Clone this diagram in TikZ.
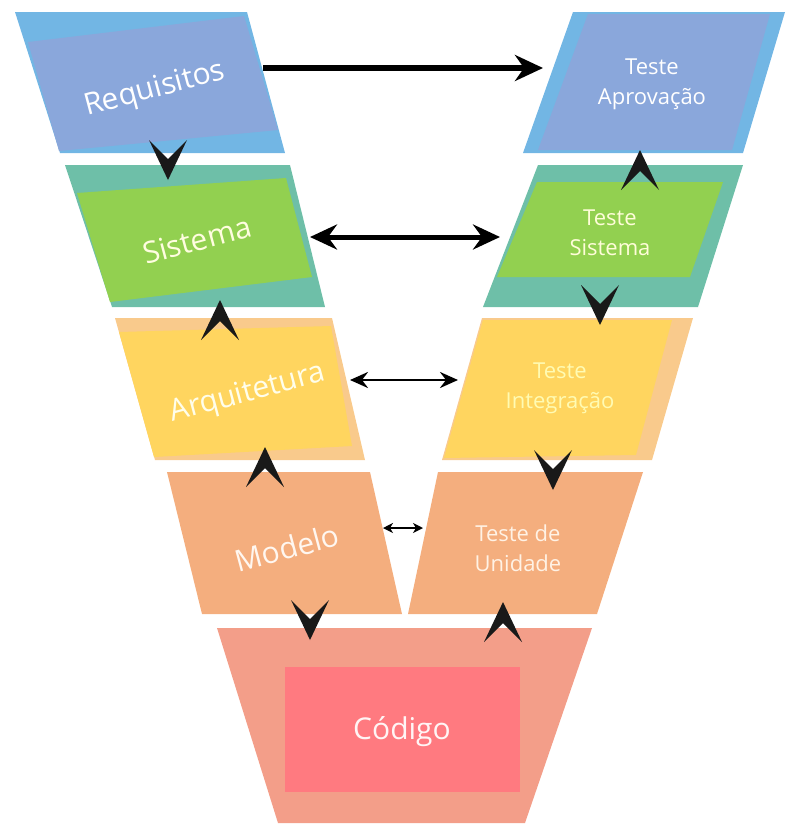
\documentclass[tikz,border=0pt]{standalone}
\usepackage{fontspec}
\setmainfont{Open Sans}
\usetikzlibrary{arrows.meta,calc}

\definecolor{azulclaro}{HTML}{72B6E4}
\definecolor{lilas}{HTML}{8AA7DB}
\definecolor{verdeagua}{HTML}{6EBFA8}
\definecolor{verde}{HTML}{92D050}
\definecolor{laranjaclaro}{HTML}{F9CA8C}
\definecolor{amarelo}{HTML}{FFD55F}
\definecolor{salmao}{HTML}{F4AE7E}
\definecolor{coral}{HTML}{F39E89}
\definecolor{vermelho}{HTML}{FF7A80}

\tikzset{
  etapa/.style={text=white, font=\fontsize{30}{34}\selectfont, inner sep=0pt},
  teste/.style={text=white, font=\fontsize{22}{30}\selectfont, align=center, inner sep=0pt},
  seta/.style={line width=5.5pt, -{Stealth[length=28pt,width=26pt,inset=9pt]}},
  setadupla/.style={line width=5pt, {Stealth[length=27pt,width=25pt,inset=9pt]}-{Stealth[length=27pt,width=25pt,inset=9pt]}},
  setamedia/.style={line width=2.8pt, {Stealth[length=18pt,width=16pt,inset=6pt]}-{Stealth[length=18pt,width=16pt,inset=6pt]}},
  setafina/.style={line width=1.4pt, {Stealth[length=10pt,width=10pt,inset=3pt]}-{Stealth[length=10pt,width=10pt,inset=3pt]}},
  chevron/.pic={\fill[black!90] (-19,-40) -- (0,0) -- (19,-40) -- (0,-21) -- cycle;}
}

\begin{document}
\begin{tikzpicture}[x=1pt, y=-1pt]
    \useasboundingbox (0,0) rectangle (785,825);

    % lado esquerdo
    \fill[azulclaro] (15,12) -- (247,12) -- (285,153) -- (60,153) -- cycle;
    \fill[lilas] (28,42) -- (244,16) -- (278,130) -- (59,151) -- cycle;
    \fill[verdeagua] (65,165) -- (290,165) -- (325,307) -- (112,307) -- cycle;
    \fill[verde] (77,193) -- (286,178) -- (312,277) -- (110,302) -- cycle;
    \fill[laranjaclaro] (115,318) -- (332,318) -- (365,460) -- (155,460) -- cycle;
    \fill[amarelo] (119,332) -- (331,326) -- (352,446) -- (154,457) -- cycle;
    \fill[salmao] (167,472) -- (370,472) -- (402,614) -- (202,614) -- cycle;

    % lado direito
    \fill[azulclaro] (573,12) -- (785,12) -- (743,153) -- (523,153) -- cycle;
    \fill[lilas] (588,14) -- (770,14) -- (732,150) -- (538,150) -- cycle;
    \fill[verdeagua] (538,165) -- (743,165) -- (698,307) -- (483,307) -- cycle;
    \fill[verde] (537,182) -- (723,182) -- (690,277) -- (497,277) -- cycle;
    \fill[laranjaclaro] (482,318) -- (693,318) -- (652,460) -- (442,460) -- cycle;
    \fill[amarelo] (483,320) -- (672,320) -- (636,455) -- (444,458) -- cycle;
    \fill[salmao] (438,472) -- (643,472) -- (597,614) -- (408,614) -- cycle;

    % codigo
    \fill[coral] (217,628) -- (592,628) -- (525,823) -- (278,823) -- cycle;
    \fill[vermelho] (285,667) rectangle (520,792);

    \node[etapa, rotate=15] (req) at (155,90) {Requisitos};
    \node[etapa, rotate=15, text=yellow!12] (sis) at (197,240) {Sistema};
    \node[etapa, rotate=15, text=yellow!8] (arq) at (248,394) {Arquitetura};
    \node[etapa, rotate=15, text=orange!6] (mod) at (287,548) {Modelo};
    \node[etapa, text=red!4] (cod) at (402,732) {Código};

    \node[teste] (tapr) at (652,84) {Teste\\Aprovação};
    \node[teste, text=yellow!15] (tsis) at (610,233) {Teste\\Sistema};
    \node[teste, text=yellow!30] (tint) at (560,388) {Teste\\Integração};
    \node[teste, text=orange!10] (tuni) at (518,548) {Teste de\\Unidade};

    % setas horizontais
    \coordinate (reqE) at (263,68);  \coordinate (taprW) at (543,68);
    \coordinate (sisE) at (310,237); \coordinate (tsisW) at (500,237);
    \coordinate (arqE) at (350,380); \coordinate (tintW) at (458,380);
    \coordinate (modE) at (383,528); \coordinate (tuniW) at (423,528);
    \draw[seta] (reqE) -- (taprW);
    \draw[setadupla] (sisE) -- (tsisW);
    \draw[setamedia] (arqE) -- (tintW);
    \draw[setafina] (modE) -- (tuniW);

    % setas entre as etapas
    \foreach \x/\y/\r in {168/180/0, 220/300/180, 265/447/180, 310/640/0,
        503/602/180, 553/490/0, 600/325/0, 640/150/180}
        {\pic[rotate=\r] at (\x,\y) {chevron};}
\end{tikzpicture}
\end{document}
